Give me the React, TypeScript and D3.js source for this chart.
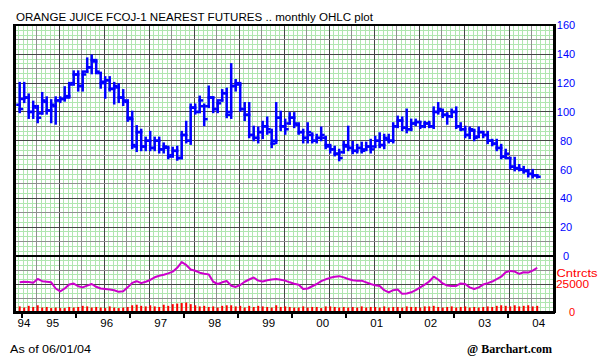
import React from "react";
import * as d3 from "d3";

// ---- data (monthly, Dec 1994 .. Jul 2004) ----
const firstYear = 1994;
const firstMonth = 11; // December (0-based)

const highs = [
  120, 120, 112, 107, 104, 113, 110, 108, 110, 110,
  117, 120, 128, 128, 128, 137, 139, 136, 127, 124,
  124, 120, 119, 115, 108, 100, 90, 87.5, 82, 86,
  82, 82, 78, 75.7, 75, 75.7, 86, 93, 105, 105,
  110.5, 105, 117.5, 110, 108, 115, 116, 133, 122, 120,
  106, 106, 89.6, 89, 93, 96, 87.5, 106, 100, 94.5,
  99, 99, 92, 87.5, 92, 85, 84, 89, 82.6, 77,
  75.7, 73.6, 79, 89.6, 79, 77, 78.5, 78.5, 80.5, 82.6,
  85, 84, 84, 92, 96.6, 96, 101.5, 94.5, 94.5, 93,
  93, 93, 103, 106, 101.5, 99, 101.5, 103, 92, 89.6,
  89, 87.5, 89, 86, 86, 80.5, 80.5, 77, 73.6, 68,
  68, 63, 61.7, 59.6, 59.6, 56,
];
const lows = [
  100, 107, 96, 96, 93, 99, 99, 93, 92, 107,
  108, 110, 119, 115, 115, 128, 127, 127, 117, 110,
  115, 106, 107, 105, 94, 75, 73, 73.6, 73.6, 73.6,
  73.6, 72, 72, 68, 69, 67, 68, 79, 78, 99,
  100, 91, 103.5, 100, 100, 108, 96.5, 96, 115, 101,
  94.5, 82.6, 80.5, 79, 82, 85, 75.7, 78.5, 87.5, 85,
  92, 89.6, 85, 79, 79, 79, 79, 80.5, 75, 72,
  70, 66.6, 72, 73.6, 71.5, 72, 72, 73.6, 72, 75.7,
  75.7, 75, 79, 79, 89.6, 87.5, 86, 87.5, 91, 89,
  89.6, 89.6, 89, 99, 96.6, 92, 96.6, 89, 87.5, 82.6,
  82, 80.5, 82.6, 82.6, 78.5, 77, 73.6, 68, 68, 61,
  59.6, 59.6, 58, 55.4, 54.7, 54.7,
];
const opens = [
  105, 109, 110, 100, 103, 99, 107, 101, 104, 108,
  109, 111, 120, 126, 118, 128, 131, 135, 127, 121,
  122, 116, 117, 110, 107, 95, 76, 86, 76, 80,
  75, 80, 74, 75, 70, 73, 68, 84, 80, 103,
  100, 104, 104, 110, 102, 108, 113, 100, 118, 119,
  102, 98, 84, 82, 86, 90, 86, 80, 96, 90,
  92, 96, 91, 86, 82, 84, 80, 82, 82, 76,
  74, 71, 72, 76, 75, 73, 75, 74, 76, 76,
  80, 77, 81, 80, 90, 94, 89, 88, 92, 93,
  90, 92, 90, 100, 101, 98, 97, 100, 90, 88,
  84, 87, 83, 86, 84, 80, 78, 75, 69, 68,
  62, 61, 60, 59, 57, 56,
];
const closes = [
  102, 110, 100, 104, 96, 108, 101, 105, 108, 109,
  110, 119, 126, 118, 126, 131, 136, 128, 120, 122,
  116, 118, 110, 108, 96, 77, 86, 76, 80, 75,
  80, 74, 76, 69, 73, 68, 84, 80, 103, 100,
  108, 95, 110, 102, 106, 113, 98, 118, 120, 102,
  98, 84, 82, 86, 90, 88, 78, 96, 90, 88,
  96, 92, 86, 82, 86, 80, 82, 84, 77, 74,
  71, 68, 77, 75, 73, 75, 73, 76, 74, 80,
  77, 82, 80, 90, 94, 89, 88, 92, 93, 90,
  92, 90, 100, 102, 98, 97, 100, 90, 88, 84,
  88, 82, 86, 84, 80, 78, 75, 69, 71, 62,
  61, 60, 59, 57, 56, 55,
];
// open interest, thousands of contracts
const openInterest = [
  26.5, 27.0, 26.8, 26.2, 29.5, 27.5, 27.1, 26.5, 21.0, 18.5,
  21.0, 24.5, 25.4, 23.0, 22.0, 23.5, 25.0, 22.5, 21.0, 20.5,
  20.0, 19.4, 18.0, 18.5, 22.0, 26.0, 27.5, 25.8, 27.0, 28.6,
  31.0, 32.4, 33.2, 34.5, 36.0, 39.5, 44.5, 42.0, 38.0, 36.8,
  35.1, 34.2, 33.6, 27.0, 25.0, 26.5, 27.7, 23.5, 22.4, 24.1,
  27.0, 29.0, 30.8, 28.0, 27.2, 28.3, 29.0, 29.5, 28.8, 28.0,
  26.5, 25.2, 24.3, 20.5, 21.0, 23.0, 25.0, 27.5, 29.2, 30.5,
  31.5, 32.0, 30.9, 29.5, 28.3, 28.0, 28.0, 26.5, 25.0, 23.8,
  23.2, 19.5, 17.5, 19.5, 20.0, 16.2, 16.5, 17.6, 19.5, 22.0,
  24.5, 27.2, 31.5, 29.0, 25.5, 23.6, 23.2, 23.3, 25.5, 25.0,
  22.0, 20.5, 22.0, 24.5, 25.8, 27.2, 29.3, 31.5, 35.5, 36.7,
  36.1, 34.0, 35.5, 35.2, 37.0, 39.5,
];
// volume, thousands of contracts
const volume = [
  5.0, 4.0, 5.5, 4.5, 6.0, 4.0, 4.5, 3.5, 4.0, 3.5, 3.5, 4.5,
  4.0, 4.5, 5.5, 5.0, 4.0, 4.5, 4.0, 3.5, 5.0, 4.0, 3.5, 4.0,
  4.5, 6.0, 6.5, 5.5, 5.0, 6.0, 5.0, 4.5, 6.5, 5.5, 7.0, 7.5,
  8.0, 8.5, 7.0, 6.0, 5.0, 5.5, 4.5, 5.0, 4.0, 5.5, 6.0, 6.0,
  5.0, 5.5, 4.0, 5.5, 4.5, 5.5, 5.0, 4.5, 4.0, 6.0, 4.5, 5.0,
  4.5, 4.0, 4.0, 5.0, 4.0, 4.5, 4.5, 3.5, 5.0, 5.0, 4.5, 4.0,
  4.5, 4.0, 4.5, 4.0, 5.0, 4.0, 4.5, 4.5, 4.0, 5.0, 4.0, 4.5,
  4.5, 4.0, 5.0, 4.5, 4.5, 4.0, 5.0, 5.0, 5.5, 4.5, 4.0, 4.5,
  5.0, 4.0, 4.5, 5.0, 4.0, 4.5, 4.0, 4.5, 5.0, 4.5, 5.5, 6.0,
  5.5, 5.0, 6.0, 5.0, 5.5, 6.0, 5.0, 5.5,
];
const priceTicks = [0, 20, 40, 60, 80, 100, 120, 140, 160];
const years = [1994, 1995, 1996, 1997, 1998, 1999, 2000, 2001, 2002, 2003, 2004];
const yearLabels = ["94", "95", "96", "97", "98", "99", "00", "01", "02", "03", "04"];

const title = "ORANGE JUICE FCOJ-1 NEAREST FUTURES .. monthly OHLC plot";

// ---- layout ----
const W = 612;
const H = 360;
const L = 14;
const R = 554;
const T = 25;
const MID = 256;
const B = 312;

const BLUE = "#0000ff";
const RED = "#ff0000";
const MAGENTA = "#cc00cc";
const GREEN = "#b0e6b0";
const GRAY = "#8f8f8f";
const DARK = "#454545";
const FONT = "'Liberation Sans', Arial, sans-serif";

export default function App() {
  const n = highs.length;
  const x = d3.scaleLinear().domain([-1.267, 118.733]).range([L, R]);
  const y = d3.scaleLinear().domain([0, 160]).range([MID, T + 0.5]);
  const yl = d3.scaleLinear().domain([0, 50]).range([B, MID]);
  const step = x(1) - x(0);

  // month index of January for a given year
  const janIndex = (yr: number) => (yr - firstYear) * 12 - firstMonth;

  // grid
  const colW = (R - L) / 24;
  const vGreen = d3.range(1, 120).map((k) => L + k * (colW / 5));
  const vMajor = d3.range(1, 24).map((k) => ({ x: L + k * colW, dark: k % 2 === 0 }));
  const hGreenMain = d3.range(1, 48).filter((k) => k % 3 !== 0).map((k) => y((k * 10) / 3));
  const hMajorMain = d3.range(1, 16).map((k) => ({ y: y(k * 10), dark: k % 2 === 0 }));
  const hGreenLow = d3.range(1, 12).filter((k) => k % 3 !== 0).map((k) => yl((k * 50) / 12));
  const hMajorLow = [12.5, 25, 37.5].map((v, k) => ({ y: yl(v), dark: k === 1 }));

  const oiLine = d3
    .line<number>()
    .x((_, i) => x(i))
    .y((d) => yl(d));

  const yearTicks = years.slice(1).map((yr) => x(janIndex(yr) - 0.5));
  const labelX = years.map((yr, k) =>
    k === 0 ? x(janIndex(yr + 1) - 0.5) + 2 : x(janIndex(yr) + 6) + 1.5
  );

  return (
    <div style={{ position: "absolute", left: 0, top: 0 }}>
      <svg width={W} height={H} style={{ display: "block", background: "#fff" }}>
        <rect x={0} y={0} width={W} height={H} fill="#fff" />
        <text
          x={16}
          y={20.5}
          fontFamily={FONT}
          fontSize={10}
          fill="#000"
          textLength={357}
          lengthAdjust="spacingAndGlyphs"
        >
          {title}
        </text>

        {/* grid */}
        <g shapeRendering="crispEdges" strokeWidth={1}>
          {vGreen.map((gx, i) => (
            <line key={"vg" + i} x1={gx} x2={gx} y1={T} y2={B} stroke={GREEN} />
          ))}
          {hGreenMain.map((gy, i) => (
            <line key={"hg" + i} x1={L} x2={R} y1={gy} y2={gy} stroke={GREEN} />
          ))}
          {hGreenLow.map((gy, i) => (
            <line key={"hgl" + i} x1={L} x2={R} y1={gy} y2={gy} stroke={GREEN} />
          ))}
          {vMajor.map((v, i) => (
            <line key={"vm" + i} x1={v.x} x2={v.x} y1={T} y2={B} stroke={v.dark ? DARK : GRAY} />
          ))}
          {hMajorMain.map((h, i) => (
            <line key={"hm" + i} x1={L} x2={R} y1={h.y} y2={h.y} stroke={h.dark ? DARK : GRAY} />
          ))}
          {hMajorLow.map((h, i) => (
            <line key={"hml" + i} x1={L} x2={R} y1={h.y} y2={h.y} stroke={h.dark ? DARK : GRAY} />
          ))}
        </g>

        {/* OHLC bars */}
        <g stroke={BLUE} strokeWidth={2.5} strokeLinecap="square">
          {d3.range(n).map((i) => {
            const cx = x(i);
            return (
              <g key={"b" + i}>
                <line x1={cx} x2={cx} y1={y(highs[i])} y2={y(lows[i])} />
                <line x1={cx - step / 2} x2={cx} y1={y(opens[i])} y2={y(opens[i])} />
                <line x1={cx} x2={cx + step / 2} y1={y(closes[i])} y2={y(closes[i])} />
              </g>
            );
          })}
        </g>

        {/* volume */}
        <g fill={RED}>
          {volume.map((v, i) => (
            <rect key={"v" + i} x={x(i) - 1} width={2} y={yl(v)} height={B - yl(v)} />
          ))}
        </g>

        {/* open interest */}
        <path d={oiLine(openInterest) || ""} fill="none" stroke={MAGENTA} strokeWidth={2} strokeLinejoin="round" />

        {/* borders */}
        <g stroke="#000" shapeRendering="crispEdges">
          <line x1={L - 1} x2={R + 1} y1={T} y2={T} strokeWidth={2} />
          <line x1={L} x2={L} y1={T - 1} y2={B + 1} strokeWidth={3} />
          <line x1={R} x2={R} y1={T - 1} y2={B + 1} strokeWidth={3} />
          <line x1={L} x2={R} y1={MID} y2={MID} strokeWidth={2} />
          <line x1={L - 1} x2={R + 1} y1={B} y2={B} strokeWidth={3} />
          {yearTicks.map((tx, i) => (
            <line key={"t" + i} x1={tx} x2={tx} y1={B} y2={B + 6} strokeWidth={2} />
          ))}
        </g>

        {/* right axis */}
        <g fontFamily={FONT} fontSize={11} fill={BLUE} textAnchor="middle">
          {priceTicks.map((v) => (
            <text key={"p" + v} x={566} y={y(v)} dy="0.36em">
              {v}
            </text>
          ))}
        </g>
        <g fontFamily={FONT} fontSize={11} fill={RED}>
          <text x={556.5} y={272.7} dy="0.36em" textLength={41} lengthAdjust="spacingAndGlyphs">
            Cntrcts
          </text>
          <text x={556} y={yl(25)} dy="0.36em" textLength={33} lengthAdjust="spacingAndGlyphs">
            25000
          </text>
          <text x={572} y={B} dy="0.36em" textAnchor="middle">
            0
          </text>
        </g>

        {/* x axis labels */}
        <g fontFamily={FONT} fontSize={11.5} fill="#000" textAnchor="middle">
          {yearLabels.map((lab, k) => (
            <text key={"y" + lab} x={labelX[k]} y={327}>
              {lab}
            </text>
          ))}
        </g>

        {/* footer */}
        <text x={10} y={349} dy="0.36em" fontFamily={FONT} fontSize={11} textLength={81} lengthAdjust="spacingAndGlyphs">
          As of 06/01/04
        </text>
        <text
          x={467}
          y={349}
          dy="0.36em"
          fontFamily="'Liberation Serif', 'Times New Roman', serif"
          fontWeight="bold"
          fontSize={12}
          textLength={85}
          lengthAdjust="spacingAndGlyphs"
        >
          @ Barchart.com
        </text>
      </svg>
    </div>
  );
}
